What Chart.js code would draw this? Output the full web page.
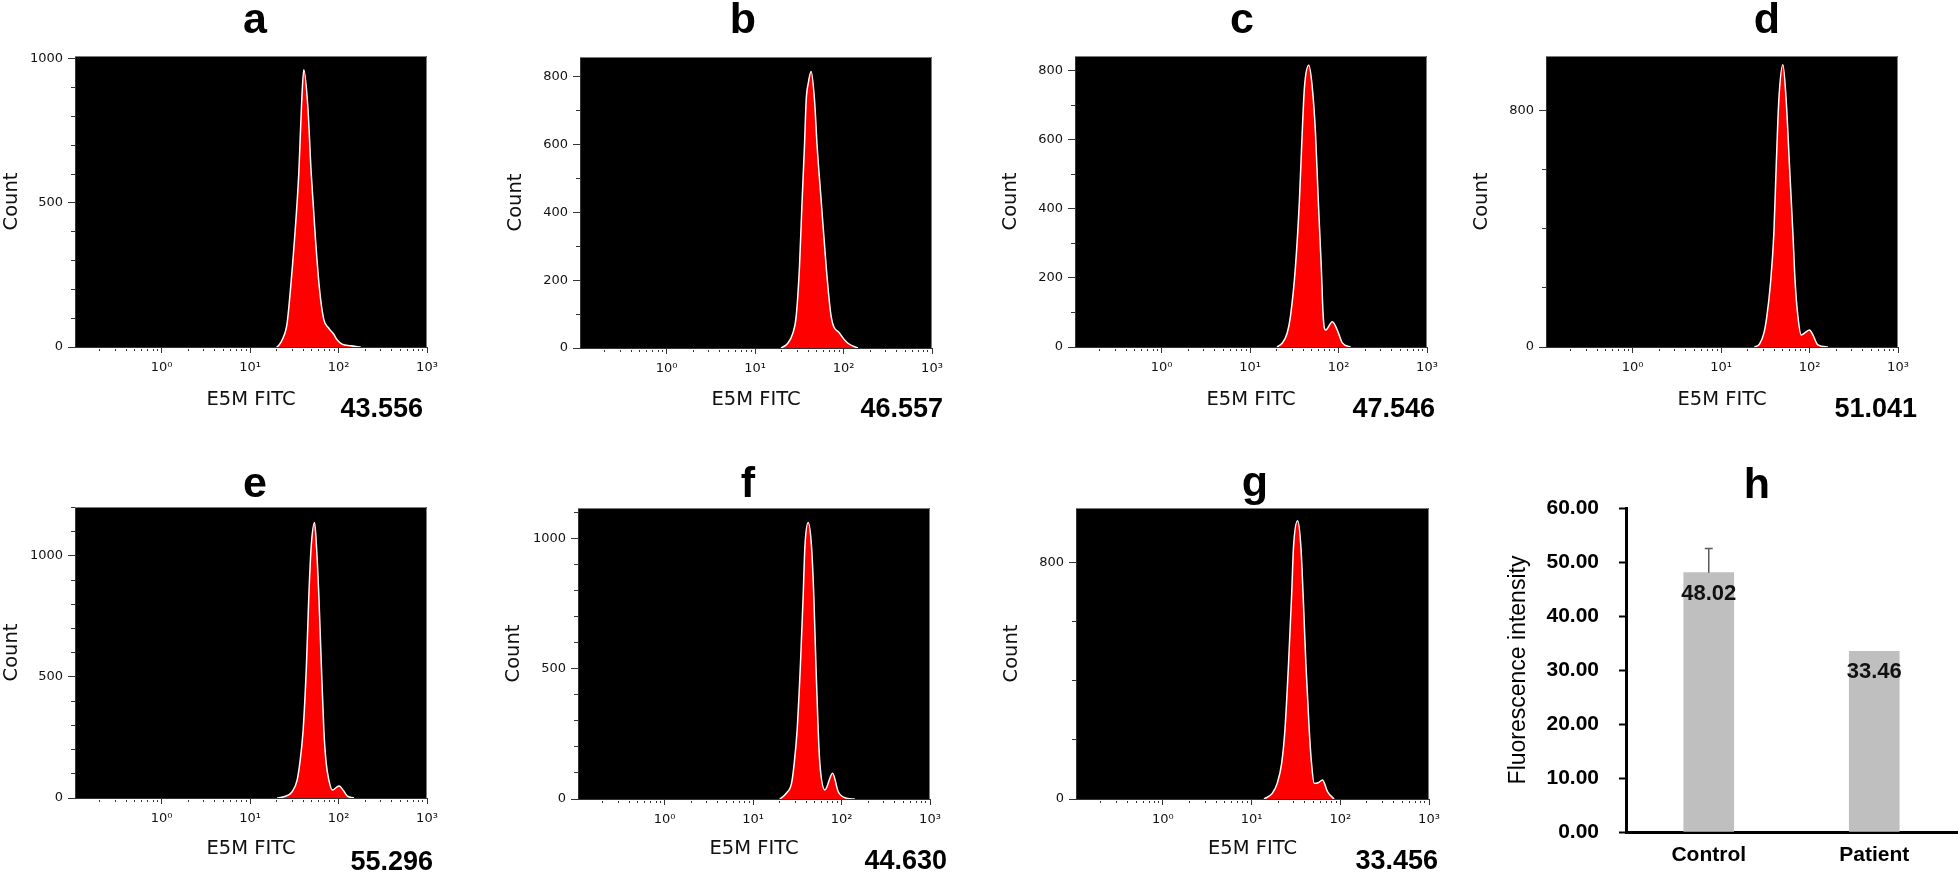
<!DOCTYPE html>
<html><head><meta charset="utf-8">
<script src="https://cdn.jsdelivr.net/npm/chart.js@4.4.1/dist/chart.umd.min.js"></script>
<style>
html,body{margin:0;padding:0;background:#fff;width:1958px;height:872px;overflow:hidden;position:relative;}
.pane{position:absolute;}
canvas{display:block;}
</style></head><body>
<script>
// ---------------- DATA ----------------
const panelLetters = ['a','b','c','d','e','f','g','h'];
const meanLabels = ['43.556','46.557','47.546','51.041','55.296','44.630','33.456'];

// FITC channel (linear units) and counts
const fitcA  = [19.95, 21.04, 23.01, 26.24, 28.58, 31.77, 35.56, 38.11, 40.46, 44.98, 49.09, 54.95, 61.09, 68.23, 77.27, 87.90, 96.83, 109.6, 137.1, 177.8];
const countA = [0, 5, 24, 83, 198, 372, 604, 834, 962, 834, 604, 372, 198, 95, 66, 45, 24, 10, 4, 0];

const fitcB  = [19.68, 23.44, 26.73, 29.11, 31.77, 34.04, 36.14, 37.84, 39.81, 43.05, 46.99, 50.35, 55.85, 63.68, 72.61, 90.16, 112.2, 145.6];
const countB = [0, 14, 44, 92, 240, 437, 594, 732, 780, 816, 732, 594, 437, 240, 92, 44, 14, 0];

const fitcC  = [20.18, 23.01, 26.24, 28.58, 32.58, 36.14, 38.82, 41.21, 46.13, 50.47, 54.95, 59.02, 63.83, 67.14, 71.45, 85.11, 96.83, 110.4, 137.1];
const countC = [0, 11, 40, 88, 232, 425, 618, 752, 815, 752, 618, 425, 232, 88, 49, 73, 49, 12, 0];

const fitcD  = [23.82, 27.16, 30.48, 32.89, 36.22, 39.54, 41.98, 44.98, 50.00, 54.45, 59.43, 64.86, 68.87, 73.96, 80.54, 100.0, 109.1, 124.5, 161.4];
const countD = [0, 10, 47, 103, 217, 386, 611, 837, 956, 837, 611, 386, 217, 103, 41, 58, 41, 7, 0];

const fitcE  = [20.18, 23.99, 29.92, 34.04, 36.47, 39.81, 43.45, 46.13, 49.09, 53.58, 56.36, 59.98, 63.83, 68.23, 72.61, 77.80, 85.11, 101.2, 125.9, 149.6];
const countE = [0, 5, 26, 74, 143, 281, 556, 832, 1039, 1138, 1039, 832, 556, 281, 143, 74, 33, 50, 8, 0];

const fitcF  = [20.05, 23.88, 27.23, 29.17, 31.48, 34.36, 36.81, 38.55, 41.98, 45.81, 48.64, 51.29, 54.45, 56.89, 64.86, 79.25, 91.83, 114.3, 141.3];
const countF = [0, 23, 61, 137, 265, 522, 778, 970, 1063, 970, 778, 522, 265, 137, 35, 99, 28, 3, 0];

const fitcG  = [13.80, 17.10, 19.45, 21.83, 23.77, 26.12, 28.25, 29.72, 33.04, 35.98, 38.19, 40.93, 44.67, 47.42, 50.82, 56.23, 63.10, 71.78, 85.11];
const countG = [0, 19, 53, 121, 234, 460, 686, 855, 943, 855, 686, 460, 234, 121, 53, 55, 64, 25, 0];

// log axis ticks and labels
const fitcTicks = [0.2,0.3,0.4,0.5,0.6,0.7,0.8,0.9,1,2,3,4,5,6,7,8,9,10,20,30,40,50,60,70,80,90,100,200,300,400,500,600,700,800,900,1000];
const fitcTickLabels = {1:'10\u2070', 10:'10\u00B9', 100:'10\u00B2', 1000:'10\u00B3'};

// bar chart (h)
const groups = ['Control','Patient'];
const intensity = [48.02, 33.46];
const intensityErr = [4.5, null];
const intensityTicks = [0,10,20,30,40,50,60];

// ---------------- LAYOUT ----------------
const FONT_AXIS = '"DejaVu Sans", Verdana, sans-serif';
const FONT_BOLD = '"Liberation Sans", Arial, sans-serif';
const FITC_MIN = 0.105, FITC_MAX = 1000;

const layouts = {
  a: {box:[0,0,495,430],     area:[75,56,427,347],     yMax:1010, yMajor:500, yMinor:100, letter:[255,33],  mean:[423,417], xPad:18, yPad:0},
  b: {box:[500,0,490,430],   area:[580,57,932,348],    yMax:859,  yMajor:200, yMinor:100, letter:[743,33],  mean:[943,417], xPad:18, yPad:4},
  c: {box:[995,0,465,430],   area:[1075,56,1427,347],  yMax:842,  yMajor:200, yMinor:100, letter:[1242,33], mean:[1435,417], xPad:18, yPad:4},
  d: {box:[1466,0,492,430],  area:[1546,56,1898,347],  yMax:986,  yMajor:800, yMinor:200, letter:[1767,33], mean:[1917,417], xPad:18, yPad:4},
  e: {box:[0,430,495,442],   area:[75,507,427,798],    yMax:1202, yMajor:500, yMinor:100, letter:[255,497], mean:[433,870], xPad:11, yPad:0},
  f: {box:[498,430,490,442], area:[578,508,930,799],   yMax:1119, yMajor:500, yMinor:100, letter:[748,497], mean:[947,869], xPad:11, yPad:4},
  g: {box:[996,430,470,442], area:[1076,508,1429,799], yMax:986,  yMajor:800, yMinor:200, letter:[1255,496], mean:[1438,869], xPad:11, yPad:4}
};

function isPow10(v){ const l = Math.log10(v); return Math.abs(l - Math.round(l)) < 1e-9; }
function zeroPad(s){ s.paddingLeft = 0; s.paddingRight = 0; s.paddingTop = 0; s.paddingBottom = 0; }

function makeCanvas(box){
  const [bx,by,bw,bh] = box;
  const wrap = document.createElement('div');
  wrap.className = 'pane';
  wrap.style.left = bx+'px'; wrap.style.top = by+'px';
  wrap.style.width = bw+'px'; wrap.style.height = bh+'px';
  const cv = document.createElement('canvas');
  cv.width = bw; cv.height = bh;
  cv.style.width = bw+'px'; cv.style.height = bh+'px';
  wrap.appendChild(cv);
  document.body.appendChild(wrap);
  return cv;
}

function histChart(key, fitc, count, letter, meanText){
  const lay = layouts[key];
  const [bx,by,bw,bh] = lay.box;
  const [L,T,R,B] = lay.area;
  const cv = makeCanvas(lay.box);
  const yW = L - bx, xH = by + bh - B;
  const deco = {
    id: 'deco'+key,
    beforeDraw(chart){
      const {ctx, chartArea:a} = chart;
      ctx.save();
      ctx.fillStyle = '#000';
      ctx.fillRect(a.left, a.top, a.right-a.left, a.bottom-a.top);
      ctx.restore();
    },
    afterDraw(chart){
      const {ctx, chartArea:a} = chart;
      ctx.save();
      ctx.strokeStyle = '#7a7a7a'; ctx.lineWidth = 1;
      ctx.beginPath();
      ctx.moveTo(a.left, a.top+0.5); ctx.lineTo(a.right-0.5, a.top+0.5); ctx.lineTo(a.right-0.5, a.bottom);
      ctx.stroke();
      ctx.fillStyle = '#000';
      ctx.textBaseline = 'alphabetic';
      ctx.textAlign = 'center';
      ctx.font = 'bold 43px ' + FONT_BOLD;
      ctx.fillText(letter, lay.letter[0]-bx, lay.letter[1]-by);
      ctx.textAlign = 'right';
      ctx.font = 'bold 27px ' + FONT_BOLD;
      ctx.fillText(meanText, lay.mean[0]-bx, lay.mean[1]-by);
      ctx.restore();
    }
  };
  return new Chart(cv, {
    type: 'line',
    data: { datasets: [{
      data: fitc.map((x,i)=>({x:x, y:count[i]})),
      fill: 'origin',
      backgroundColor: '#ff0000',
      borderColor: '#ffffff',
      borderWidth: 1.5,
      pointRadius: 0,
      cubicInterpolationMode: 'monotone'
    }]},
    options: {
      responsive: false, animation: false, devicePixelRatio: 1,
      layout: { autoPadding: false, padding: {left:0, top: T-by, right: bx+bw-R, bottom:0} },
      plugins: { legend:{display:false}, tooltip:{enabled:false} },
      scales: {
        x: {
          type: 'logarithmic', position: 'bottom', min: FITC_MIN, max: FITC_MAX,
          afterFit(s){ s.height = xH; zeroPad(s); },
          afterBuildTicks(s){ s.ticks = fitcTicks.map(v=>({value:v})); },
          ticks: { autoSkip:false, maxRotation:0, minRotation:0, padding:7, color:'#111',
                   font:{family:FONT_AXIS, size:13}, callback:(v)=> fitcTickLabels[v] || '' },
          grid: { drawOnChartArea:false, tickLength:6, tickColor:'#333', tickWidth:1,
                  tickBorderDash:(c)=> (c.tick && !isPow10(c.tick.value)) ? [0,1,2,100] : [] },
          border: { color:'#333', width:1 },
          title: { display:true, text:'E5M FITC', color:'#111', font:{family:FONT_AXIS, size:19.5},
                   padding:{top:0, bottom:lay.xPad} }
        },
        y: {
          position: 'left', min: 0, max: lay.yMax,
          afterFit(s){ s.width = yW; zeroPad(s); },
          afterBuildTicks(s){ const t=[]; for(let v=0; v<=lay.yMax; v+=lay.yMinor) t.push({value:v}); s.ticks=t; },
          ticks: { autoSkip:false, padding:5, color:'#111', font:{family:FONT_AXIS, size:13},
                   callback:(v)=> (v % lay.yMajor === 0) ? String(v) : '' },
          grid: { drawOnChartArea:false, tickLength:7, tickColor:'#333', tickWidth:1,
                  tickBorderDash:(c)=> (c.tick && c.tick.value % lay.yMajor !== 0) ? [0,3,4,100] : [] },
          border: { color:'#333', width:1 },
          title: { display:true, text:'Count', color:'#111', font:{family:FONT_AXIS, size:19.5},
                   padding:{top:lay.yPad, bottom:0} }
        }
      }
    },
    plugins: [deco]
  });
}

histChart('a', fitcA, countA, panelLetters[0], meanLabels[0]);
histChart('b', fitcB, countB, panelLetters[1], meanLabels[1]);
histChart('c', fitcC, countC, panelLetters[2], meanLabels[2]);
histChart('d', fitcD, countD, panelLetters[3], meanLabels[3]);
histChart('e', fitcE, countE, panelLetters[4], meanLabels[4]);
histChart('f', fitcF, countF, panelLetters[5], meanLabels[5]);
histChart('g', fitcG, countG, panelLetters[6], meanLabels[6]);

// ---------------- BAR CHART (h) ----------------
(function(){
  const box = [1470,430,488,442];
  const area = [1626,508,1957,832];
  const [bx,by,bw,bh] = box;
  const cv = makeCanvas(box);
  const barDeco = {
    id: 'barDeco',
    afterDatasetsDraw(chart){
      const {ctx} = chart;
      const meta = chart.getDatasetMeta(0);
      const ys = chart.scales.y;
      ctx.save();
      meta.data.forEach((bar,i)=>{
        if (intensityErr[i]) {
          const yt = ys.getPixelForValue(intensity[i] + intensityErr[i]);
          ctx.strokeStyle = '#5a5a5a'; ctx.lineWidth = 1.5;
          ctx.beginPath();
          ctx.moveTo(bar.x, bar.y); ctx.lineTo(bar.x, yt);
          ctx.moveTo(bar.x-4, yt); ctx.lineTo(bar.x+4, yt);
          ctx.stroke();
        }
        ctx.fillStyle = '#111';
        ctx.font = 'bold 22px ' + FONT_BOLD;
        ctx.textAlign = 'center'; ctx.textBaseline = 'middle';
        ctx.fillText(intensity[i].toFixed(2), bar.x, bar.y + 21);
      });
      ctx.fillStyle = '#000';
      ctx.textBaseline = 'alphabetic';
      ctx.font = 'bold 43px ' + FONT_BOLD;
      ctx.fillText(panelLetters[7], 1757-bx, 498-by);
      ctx.restore();
    }
  };
  new Chart(cv, {
    type: 'bar',
    data: { labels: groups, datasets: [{ data: intensity, backgroundColor:'#bfbfbf', borderWidth:0, barThickness:50 }] },
    options: {
      responsive:false, animation:false, devicePixelRatio:1,
      layout: { autoPadding:false, padding:{left:0, top: area[1]-by, right: bx+bw-area[2], bottom:0} },
      plugins: { legend:{display:false}, tooltip:{enabled:false} },
      scales: {
        x: {
          z: 1,
          afterFit(s){ s.height = by+bh-area[3]; zeroPad(s); },
          grid: { drawOnChartArea:false, drawTicks:false },
          border: { color:'#000', width:3 },
          ticks: { padding:11, color:'#000', font:{family:FONT_BOLD, size:21, weight:'bold'} }
        },
        y: {
          z: 1, min:0, max:60,
          afterFit(s){ s.width = area[0]-bx; zeroPad(s); },
          afterBuildTicks(s){ s.ticks = intensityTicks.map(v=>({value:v})); },
          ticks: { padding:20, color:'#000', font:{family:FONT_BOLD, size:21, weight:'bold'},
                   callback:(v)=> Number(v).toFixed(2) },
          grid: { drawOnChartArea:false, tickLength:7, tickWidth:2, tickColor:'#000' },
          border: { color:'#000', width:3 },
          title: { display:true, text:'Fluorescence intensity', color:'#000',
                   font:{family:FONT_BOLD, size:23}, padding:{top:35, bottom:0} }
        }
      }
    },
    plugins: [barDeco]
  });
})();
</script>
</body></html>
